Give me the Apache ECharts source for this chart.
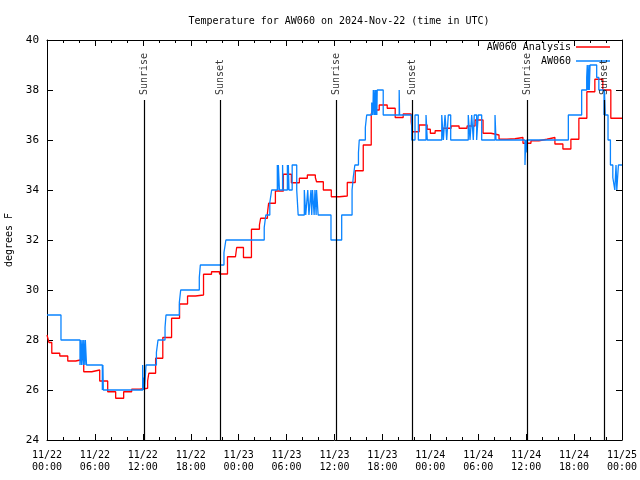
<!DOCTYPE html>
<html>
<head>
<meta charset="utf-8">
<script src="https://cdn.jsdelivr.net/npm/echarts@6/dist/echarts.min.js"></script>
<style>html,body{margin:0;padding:0;background:#fff}#c{width:640px;height:480px}</style>
</head>
<body>
<div id="c"></div>
<script>
// ---- data (hours since 2024-11-22 00:00 UTC) ----
const xTickLabels = ['11/22\n00:00','11/22\n06:00','11/22\n12:00','11/22\n18:00','11/23\n00:00','11/23\n06:00','11/23\n12:00','11/23\n18:00','11/24\n00:00','11/24\n06:00','11/24\n12:00','11/24\n18:00','11/25\n00:00'];

const redHours = [0,0.25,0.6,1.6,2.6,3.6,4.6,5.6,6.6,7.6,8.6,9.6,10.6,11.6,12.6,12.75,13.6,14.5,15.6,16.6,17.6,18.6,19.6,20.6,21.6,22.6,23.6,23.75,24.6,25.6,26.6,26.75,27.6,27.75,28.6,29.6,30.6,31.6,32.6,33.6,33.75,34.6,35.6,36.6,37.6,38.6,39.6,40.6,40.75,41.6,42.6,43.6,44.6,45.6,45.75,46.6,47.6,48.0,48.6,49.6,50.6,51.6,52.6,53.6,54.6,55.6,56.6,57.6,58.6,59.6,60.6,61.6,62.6,63.6,64.6,65.6,66.6,67.6,68.6,69.6,70.6,72];
const redTemps = [28.2,27.9,27.47,27.36,27.16,27.23,26.73,26.8,26.36,25.93,25.67,25.93,26.03,26.07,26.36,26.67,27.27,28.1,28.87,29.44,29.76,29.8,30.63,30.73,30.64,31.33,31.4,31.7,31.3,32.43,32.6,32.87,33.07,33.47,33.96,34.63,34.29,34.47,34.6,34.5,34.33,34.0,33.73,33.76,34.3,34.77,35.8,37.04,37.2,37.4,37.27,36.9,37.04,36.73,36.33,36.6,36.43,36.27,36.37,36.47,36.56,36.47,36.56,36.8,36.27,36.2,36.03,36.05,36.1,35.87,35.97,36.03,36.1,35.84,35.64,36.03,36.87,37.93,38.43,38.0,36.87,36.87];

const blueHours = [0,1.75,4.13,4.2,4.33,4.4,4.55,4.6,4.75,4.8,4.95,6.93,7.0,7.05,11.98,12.02,12.1,12.2,12.4,13.7,13.9,14.78,14.9,16.57,16.74,19.07,19.2,22.16,22.4,27.2,27.4,27.9,28.13,28.84,28.9,28.97,29.1,29.5,29.55,30.1,30.15,30.22,30.3,30.7,31.27,31.45,32.22,32.4,32.65,32.8,33.05,33.15,33.25,33.45,33.55,33.7,33.75,33.95,35.56,36.9,38.2,38.35,38.55,39.0,39.1,39.86,40.03,40.66,40.8,40.86,41.0,41.05,41.15,41.2,41.3,41.35,42.1,44.1,44.15,45.67,46.08,46.5,47.46,47.62,49.43,49.63,49.84,50.05,50.25,50.55,52.75,52.97,53.18,53.38,53.5,53.8,54.0,54.43,56.1,56.22,59.85,59.95,60.0,60.07,65.28,66.95,67.58,67.65,67.75,67.85,67.9,68.0,68.83,69.1,69.75,69.8,69.9,70.25,70.55,70.85,71.1,71.25,71.35,71.55,72];
const blueTemps = [29,28,27,28,27,28,27,28,27,28,27,26,27,26,27,26,26.5,26,27,27.5,28,28.5,29,29.5,30,30.5,31,31.5,32,32.5,33,33.5,34,35,34,35,34,35,34,35,34,35,34,35,34,33,34,33,34,33,34,33,34,33,34,33,34,33,32,33,34,34.5,35,35.5,36,36.5,37,37.5,37,38,37,38,37,38,37,38,37,38,37,36,37,36,37,36,37,36,37,36,37,36,37,36,37,36,37,36,37,36,37,36,35,36,35.5,36,37,38,38.5,39,38,39,38,39,38.5,38,37,38,37,36,35,34.5,34,35,34,35,35];

const sunHours = [12.18, 21.73, 36.23, 45.7, 60.1, 69.81];
const sunLabels = ['Sunrise','Sunset','Sunrise','Sunset','Sunrise','Sunset'];
const sunLineTop = 37.6;

const FONT = 'DejaVu Sans Mono';
const redData = redHours.map((h,i)=>[h, redTemps[i]]);
const blueData = blueHours.map((h,i)=>[h, blueTemps[i]]);

const chart = echarts.init(document.getElementById('c'), null, {renderer:'canvas'});
const axisCommon = {
  axisLine:{show:true, onZero:false, lineStyle:{color:'#000', width:1}},
  splitLine:{show:false}
};
chart.setOption({
  animation:false,
  backgroundColor:'#fff',
  title:{text:'Temperature for AW060 on 2024-Nov-22 (time in UTC)', left:334, top:11, textAlign:'center',
    textStyle:{fontFamily:FONT, fontSize:10, fontWeight:'normal', color:'#000'}},
  legend:[
    {data:['AW060 Analysis'], right:30, top:42, icon:'rect', itemWidth:34, itemHeight:1.5, itemGap:0,
     textStyle:{fontFamily:FONT, fontSize:10, color:'#000'}, align:'right', selectedMode:false, padding:0},
    {data:['AW060'], right:30, top:56, icon:'rect', itemWidth:34, itemHeight:1.5, itemGap:0,
     textStyle:{fontFamily:FONT, fontSize:10, color:'#000'}, align:'right', selectedMode:false, padding:0}
  ],
  grid:{left:47, right:18, top:40, bottom:40, containLabel:false, outerBoundsMode:'none'},
  xAxis:[
    Object.assign({type:'value', position:'bottom', min:0, max:72, interval:6,
      axisTick:{show:true, inside:true, length:6, lineStyle:{color:'#000'}},
      minorTick:{show:true, splitNumber:3, length:3, lineStyle:{color:'#000'}},
      axisLabel:{show:true, margin:9, fontFamily:FONT, fontSize:10, color:'#000', lineHeight:12,
        formatter:v=>xTickLabels[Math.round(v/6)]}}, axisCommon),
    Object.assign({type:'value', position:'top', min:0, max:72, interval:6,
      axisTick:{show:true, inside:true, length:6, lineStyle:{color:'#000'}},
      minorTick:{show:true, splitNumber:3, length:3, lineStyle:{color:'#000'}},
      axisLabel:{show:false}}, axisCommon)
  ],
  yAxis:[
    Object.assign({type:'value', position:'left', min:24, max:40, interval:2,
      name:'degrees F', nameLocation:'middle', nameGap:33, nameRotate:90,
      nameTextStyle:{fontFamily:FONT, fontSize:10, color:'#000'},
      axisTick:{show:true, inside:true, length:6, lineStyle:{color:'#000'}},
      axisLabel:{show:true, margin:8, fontFamily:FONT, fontSize:11, color:'#000'}}, axisCommon),
    Object.assign({type:'value', position:'right', min:24, max:40, interval:2,
      axisTick:{show:true, inside:true, length:6, lineStyle:{color:'#000'}},
      axisLabel:{show:false}}, axisCommon)
  ],
  series:[
    {name:'AW060 Analysis', type:'line', step:'end', data:redData, showSymbol:false, symbol:'none',
     color:'#ff0000', lineStyle:{color:'#ff0000', width:1.3}, z:3},
    {name:'AW060', type:'line', step:'end', data:blueData, showSymbol:false, symbol:'none',
     color:'#0a84ff', lineStyle:{color:'#0a84ff', width:1.3}, z:4},
    {name:'sun', type:'scatter', symbolSize:0, z:5, silent:true,
     data:sunHours.map((h,i)=>({value:[h, sunLineTop], name:sunLabels[i]})),
     label:{show:true, formatter:p=>p.name, position:[0,-5], align:'left', verticalAlign:'middle', rotate:90,
       fontFamily:FONT, fontSize:10, color:'#000'},
     markLine:{silent:true, symbol:'none', animation:false, label:{show:false},
       lineStyle:{color:'#000', width:1.2, type:'solid'},
       data:sunHours.map(h=>[{coord:[h,24]},{coord:[h,sunLineTop]}])}}
  ]
});
</script>
</body>
</html>
